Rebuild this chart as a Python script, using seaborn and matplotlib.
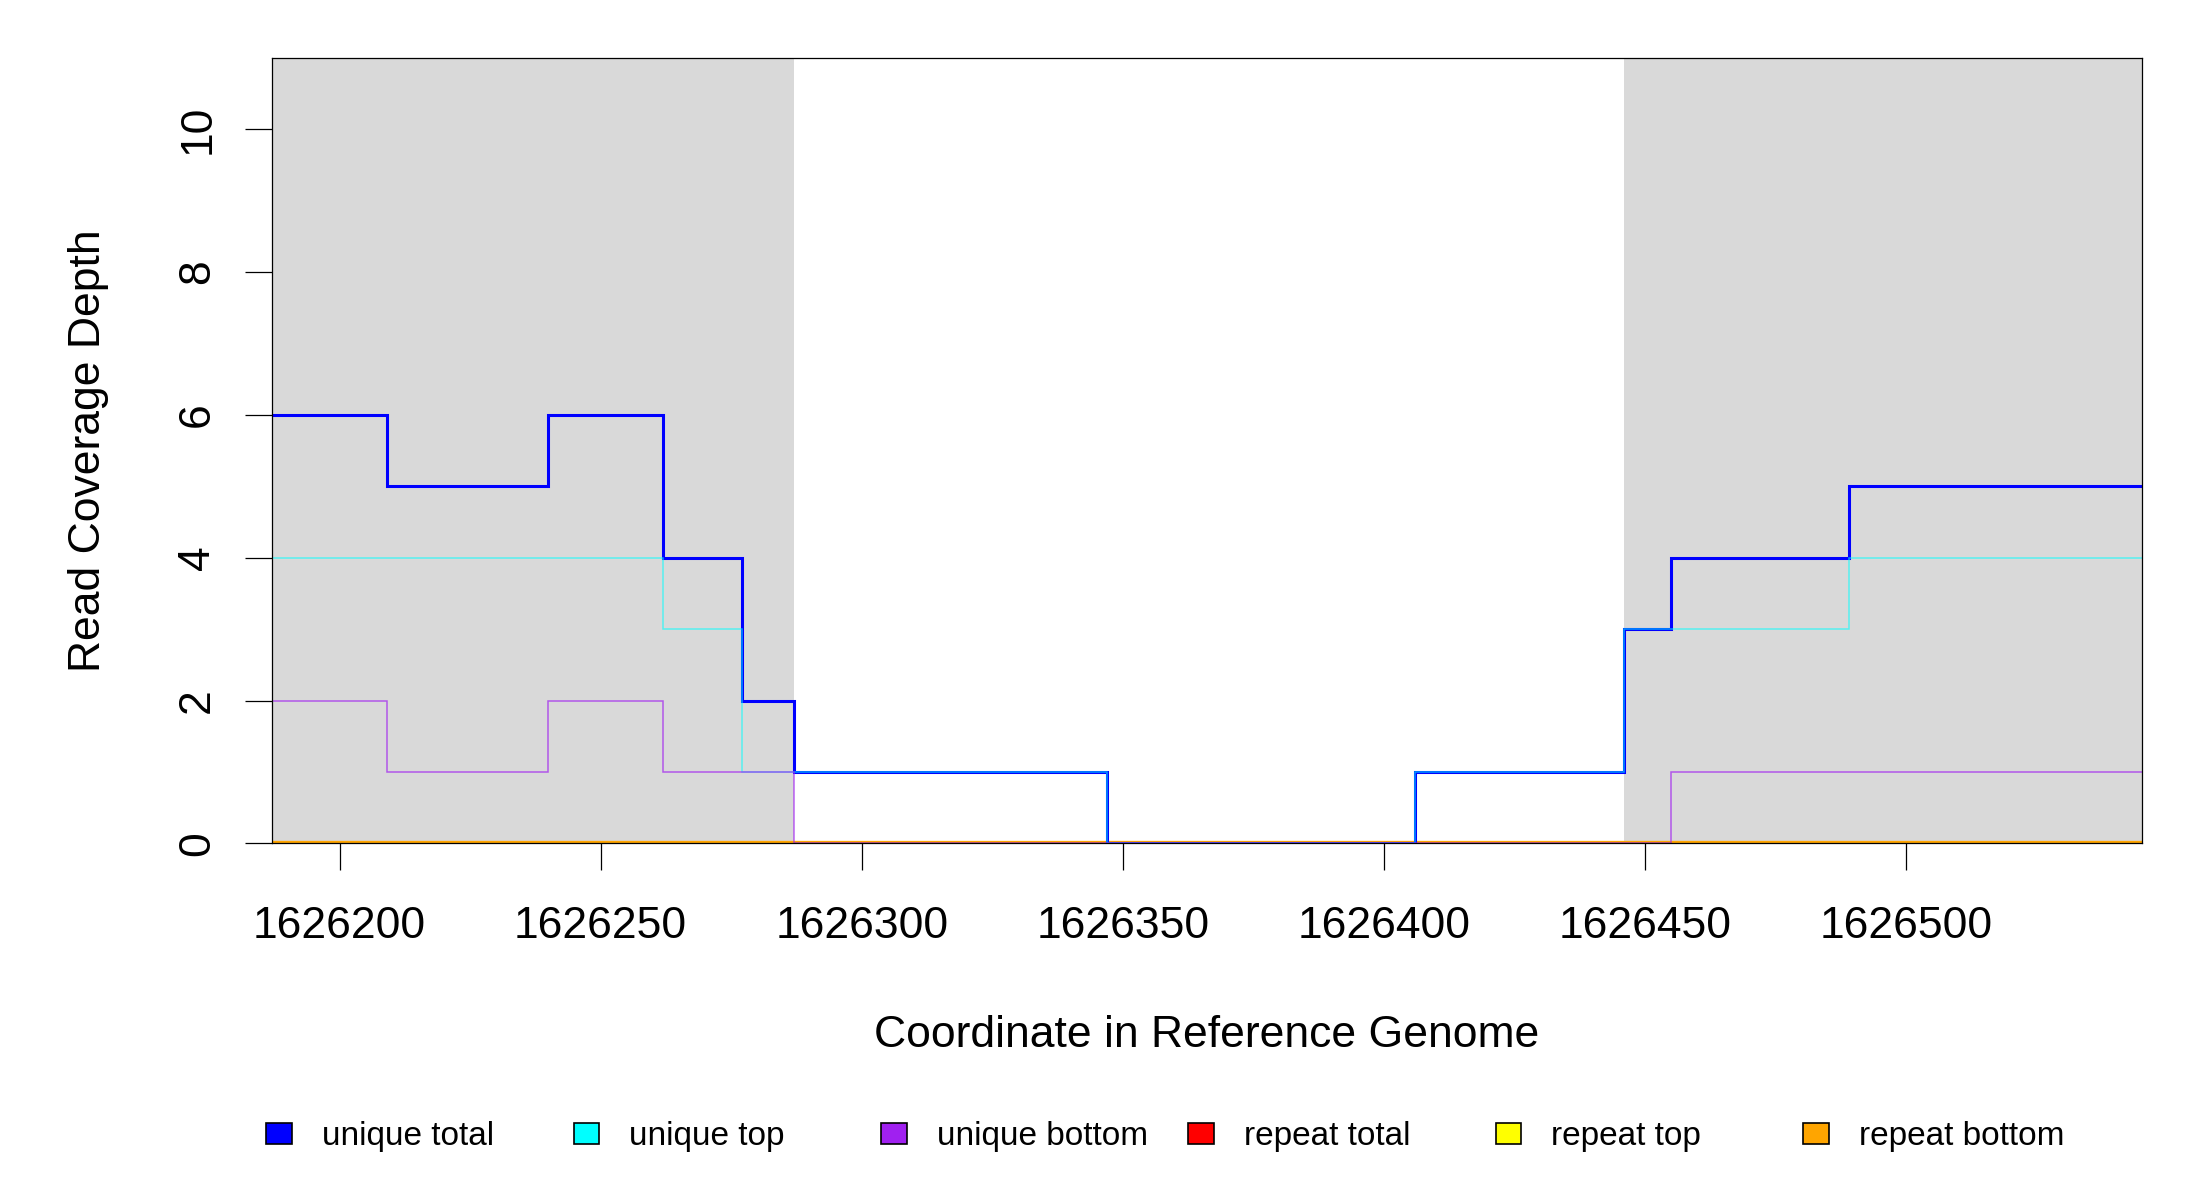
import numpy as np
import pandas as pd
import matplotlib
matplotlib.use("Agg")
import matplotlib.pyplot as plt
import seaborn as sns
from matplotlib.patches import Rectangle

# ---------------- data ----------------
step_edges = [1626187, 1626209, 1626240, 1626262, 1626277, 1626287,
              1626347, 1626406, 1626446, 1626455, 1626489, 1626545.2]
unique_total = [6, 5, 6, 4, 2, 1, 0, 1, 3, 4, 5]
unique_top = [4, 4, 4, 3, 1, 1, 0, 1, 3, 3, 4]
unique_bottom = [2, 1, 2, 1, 1, 0, 0, 0, 0, 1, 1]
repeat_total = [0, 0, 0, 0, 0, 0, 0, 0, 0, 0, 0]
repeat_top = [0, 0, 0, 0, 0, 0, 0, 0, 0, 0, 0]
repeat_bottom = [0, 0, 0, 0, 0, 0, 0, 0, 0, 0, 0]
feature_regions = [(1626187, 1626287), (1626446, 1626545.2)]
x_ticks = [1626200, 1626250, 1626300, 1626350, 1626400, 1626450, 1626500]
y_ticks = [0, 2, 4, 6, 8, 10]
legend_labels = ["unique total", "unique top", "unique bottom",
                 "repeat total", "repeat top", "repeat bottom"]
legend_colors = ["#0000FF", "#00FFFF", "#A020F0", "#FF0000", "#FFFF00", "#FFA500"]

# ---------------- style ----------------
sns.set_style("white")
plt.rcParams["font.family"] = ["Liberation Sans", "DejaVu Sans"]
plt.rcParams["text.color"] = "black"
plt.rcParams["axes.labelcolor"] = "black"
plt.rcParams["xtick.color"] = "black"
plt.rcParams["ytick.color"] = "black"

fig = plt.figure(figsize=(22, 12), dpi=100)
L, R, B, T = 271.7 / 2200, 2142 / 2200, 1 - 843.3 / 1200, 1 - 58 / 1200
ax = fig.add_axes([L, B, R - L, T - B])

for x0, x1 in feature_regions:
    ax.axvspan(x0, x1, color="#D9D9D9", lw=0, zorder=0)


def step_df(vals):
    return pd.DataFrame({"x": step_edges, "y": list(vals) + [vals[-1]]})


series = [
    (repeat_total, "#FF0000", 3.0, 0.45),
    (repeat_top, "#FFFF00", 3.0, 0.45),
    (repeat_bottom, "#FFA500", 3.0, 1.0),
    (unique_total, "#0000FF", 2.2, 1.0),
    (unique_top, "#00FFFF", 1.1, 0.6),
    (unique_bottom, "#A020F0", 1.1, 0.7),
]
for vals, col, lw, a in series:
    sns.lineplot(data=step_df(vals), x="x", y="y", ax=ax, color=col, lw=lw,
                 alpha=a, drawstyle="steps-post", estimator=None, sort=False,
                 legend=False, solid_joinstyle="miter", solid_capstyle="butt",
                 zorder=3)

ax.set_xlim(1626187, 1626545.2)
ax.set_ylim(0, 11)
ax.set_xticks(x_ticks)
ax.set_xticklabels([str(v) for v in x_ticks])
ax.set_yticks(y_ticks)
ax.set_yticklabels([str(v) for v in y_ticks])
ax.set_xlabel("")
ax.set_ylabel("")
for s in ax.spines.values():
    s.set_visible(True)
    s.set_color("black")
    s.set_linewidth(0.9)
    s.set_zorder(5)
ax.tick_params(axis="both", direction="out", length=19.5, width=0.9,
               colors="black", labelcolor="black", labelsize=32,
               bottom=True, left=True)
ax.tick_params(axis="x", pad=26)
ax.tick_params(axis="y", pad=19, labelrotation=90)
for lab in ax.get_yticklabels():
    lab.set_va("center")

fig.text((L + R) / 2, 1 - 1046.7 / 1200, "Coordinate in Reference Genome",
         ha="center", va="baseline", fontsize=32, color="black")
fig.text(100 / 2200, (B + T) / 2, "Read Coverage Depth", rotation=90,
         rotation_mode="anchor", ha="center", va="baseline", fontsize=32,
         color="black")

# legend
for i, (lab, col) in enumerate(zip(legend_labels, legend_colors)):
    x0 = 266.4 + i * 307.3
    fig.add_artist(Rectangle((x0 / 2200, 1 - 1144 / 1200), 25.7 / 2200,
                             21.3 / 1200, transform=fig.transFigure,
                             facecolor=col, edgecolor="black", lw=1.2))
    fig.text((x0 + 55.7) / 2200, 1 - 1144.5 / 1200, lab, ha="left",
             va="baseline", fontsize=24, color="black")

fig.savefig("out.png", dpi=100)
